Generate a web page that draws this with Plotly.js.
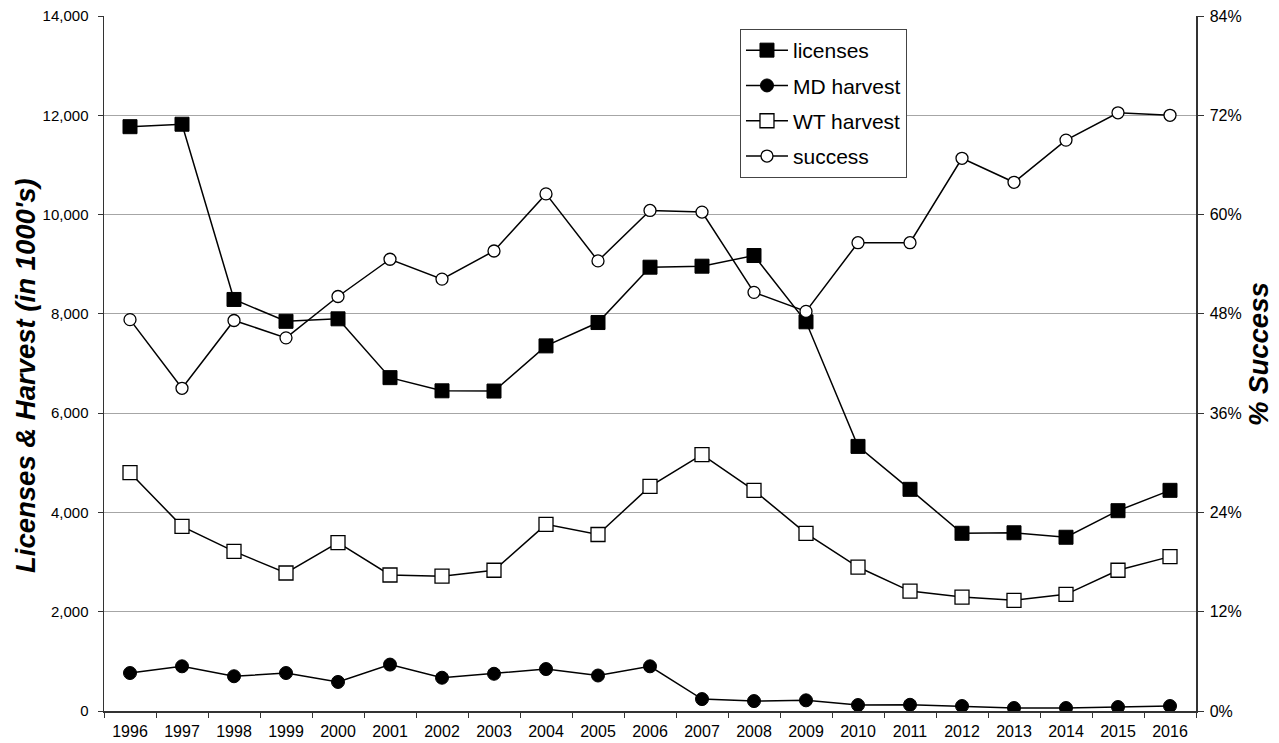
<!DOCTYPE html>
<html>
<head>
<meta charset="utf-8">
<script src="https://cdn.plot.ly/plotly-3.0.1.min.js"></script>
<style>html,body{margin:0;padding:0;background:#fff;}#chart{width:1279px;height:743px;}</style>
</head>
<body>
<div id="chart"></div>
<script>
const years = ['1996','1997','1998','1999','2000','2001','2002','2003','2004','2005','2006','2007','2008','2009','2010','2011','2012','2013','2014','2015','2016'];
const licenses = [11770,11820,8290,7850,7900,6715,6450,6445,7355,7825,8940,8960,9175,7840,5330,4465,3580,3590,3500,4035,4445];
const mdHarvest = [765,900,700,765,585,935,670,750,845,715,900,240,200,215,120,125,100,60,60,80,100];
const wtHarvest = [4800,3720,3215,2780,3390,2740,2715,2835,3760,3555,4525,5165,4445,3580,2900,2415,2295,2230,2350,2835,3110];
const success = [0.473,0.390,0.472,0.451,0.501,0.546,0.522,0.556,0.625,0.544,0.605,0.603,0.506,0.483,0.566,0.566,0.668,0.639,0.690,0.723,0.720];
const yTicks = [0,2000,4000,6000,8000,10000,12000,14000];
const yTickText = ['0','2,000','4,000','6,000','8,000','10,000','12,000','14,000'];
const y2Ticks = [0,0.12,0.24,0.36,0.48,0.60,0.72,0.84];
const y2TickText = ['0%','12%','24%','36%','48%','60%','72%','84%'];
const leftTitle = "Licenses & Harvest (in 1000's)";
const rightTitle = '% Success';

const lineStyle = {color:'#000', width:1.5};
const traces = [
  {x:years, y:licenses, name:'licenses', type:'scatter', mode:'lines+markers', legendgroup:'a',
   line:lineStyle, marker:{symbol:'square', size:14, color:'#000', line:{color:'#000', width:1}}},
  {x:years, y:mdHarvest, name:'MD harvest', type:'scatter', mode:'lines+markers', legendgroup:'b',
   line:lineStyle, marker:{symbol:'circle', size:13, color:'#000', line:{color:'#000', width:1}}},
  {x:years, y:wtHarvest, name:'WT harvest', type:'scatter', mode:'lines+markers', legendgroup:'c',
   line:lineStyle, marker:{symbol:'square', size:14, color:'#fff', line:{color:'#000', width:1.3}}},
  {x:years, y:success, name:'success', type:'scatter', mode:'lines+markers', legendgroup:'d', yaxis:'y2',
   line:lineStyle, marker:{symbol:'circle', size:12, color:'#fff', line:{color:'#000', width:1.3}}}
];

const font = {family:'"Liberation Sans", Arial, sans-serif', color:'#000'};
const titleFont = {family:font.family, size:27.5, color:'#000', weight:'bold', style:'italic'};
const layout = {
  width:1279, height:743,
  margin:{l:104, r:83, t:16, b:32},
  paper_bgcolor:'#fff', plot_bgcolor:'#fff',
  font:font,
  showlegend:true,
  legend:{x:0.5824, y:0.9813, xanchor:'left', yanchor:'top', bgcolor:'#fff', bordercolor:'#444', borderwidth:1,
          itemwidth:42,
          font:{family:font.family, size:21, color:'#000'}, tracegroupgap:5, traceorder:'grouped'},
  xaxis:{type:'category', range:[-0.5, 20.5], tickson:'boundaries', ticks:'outside', ticklen:5, tickcolor:'#333',
         showline:true, linecolor:'#333', linewidth:1.5, showgrid:false, zeroline:false, ticklabelstandoff:5,
         tickfont:{family:font.family, size:16, color:'#000'}, fixedrange:true},
  yaxis:{range:[0,14000], tickvals:yTicks, ticktext:yTickText, ticks:'outside', ticklen:5, tickcolor:'#333',
         showline:true, linecolor:'#333', linewidth:1.5, showgrid:true, gridcolor:'#a6a6a6', gridwidth:1, zeroline:false,
         ticklabelstandoff:6,
         tickfont:{family:font.family, size:15, color:'#000'}},
  yaxis2:{range:[0,0.84], tickvals:y2Ticks, ticktext:y2TickText, overlaying:'y', side:'right', ticks:'outside', ticklen:6, tickcolor:'#333',
          showline:true, linecolor:'#333', linewidth:1.5, showgrid:false, zeroline:false, ticklabelstandoff:3,
          tickfont:{family:font.family, size:16, color:'#000'}},
  annotations:[
    {text:leftTitle, xref:'paper', yref:'paper', x:0, y:0.482, xshift:-79, xanchor:'center', yanchor:'middle',
     textangle:-90, showarrow:false, font:titleFont},
    {text:rightTitle, xref:'paper', yref:'paper', x:1, y:0.5137, xshift:63, xanchor:'center', yanchor:'middle',
     textangle:-90, showarrow:false, font:titleFont}
  ]
};

Plotly.newPlot('chart', traces, layout, {staticPlot:true, displayModeBar:false});
</script>
</body>
</html>
